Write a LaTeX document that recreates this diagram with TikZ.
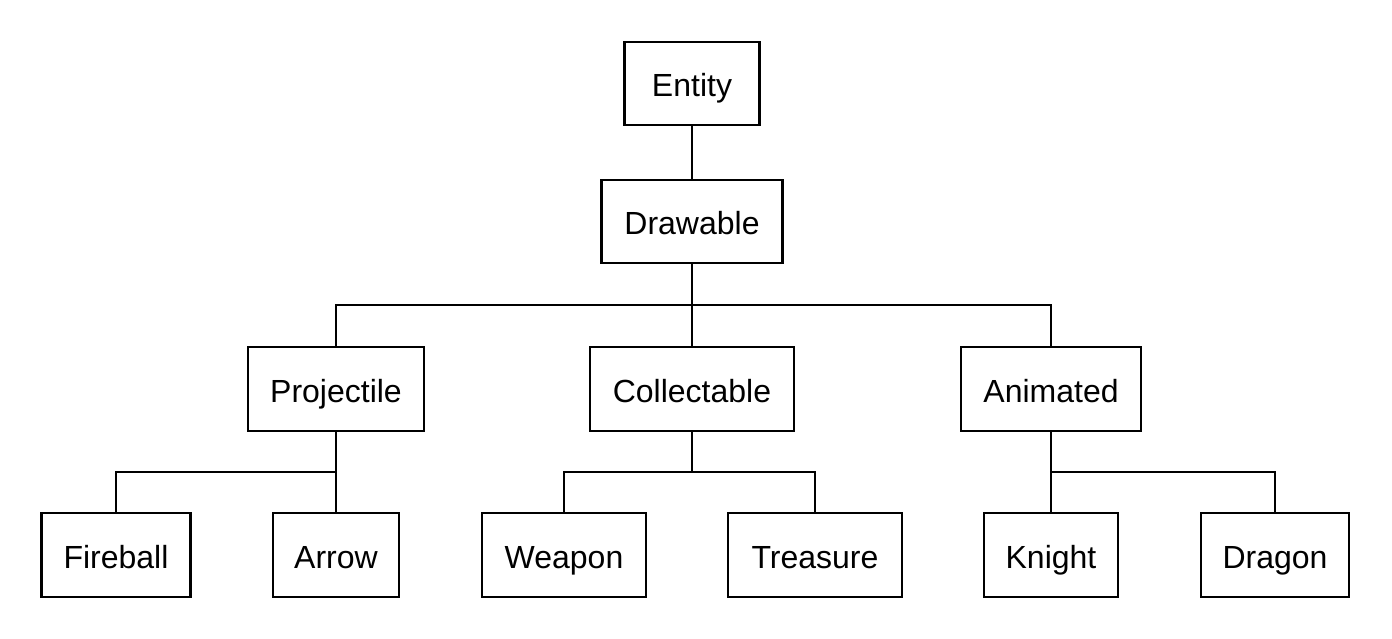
\documentclass[tikz,border=0pt]{standalone}
\usepackage{fontspec}
\setmainfont{Liberation Sans}
\begin{document}
\begin{tikzpicture}[x=1pt,y=-1pt,
  box/.style={draw, line width=2.6pt, inner sep=0pt, minimum height=84pt,
    text height=28pt, text depth=2pt,
    font=\fontsize{32}{38}\selectfont},
  link/.style={line width=2.6pt, line join=miter}]
\useasboundingbox (0,0) rectangle (1392,639);
\node[box, minimum width=135pt, minimum height=83pt] (entity) at (692,83.5) {Entity};
\node[box, minimum width=181pt, minimum height=83pt] (drawable) at (692,221.5) {Drawable};
\node[box, minimum width=176pt] (projectile) at (336,389) {Projectile};
\node[box, minimum width=204pt] (collectable) at (692,389) {Collectable};
\node[box, minimum width=180pt] (animated) at (1051,389) {Animated};
\node[box, minimum width=149pt] (fireball) at (116,555) {Fireball};
\node[box, minimum width=126pt] (arrow) at (336,555) {Arrow};
\node[box, minimum width=164pt] (weapon) at (564,555) {Weapon};
\node[box, minimum width=174pt] (treasure) at (815,555) {Treasure};
\node[box, minimum width=134pt] (knight) at (1051,555) {Knight};
\node[box, minimum width=148pt] (dragon) at (1275,555) {Dragon};
\coordinate (b1) at (692,305);
\coordinate (b2) at (336,472);
\coordinate (b3) at (692,472);
\coordinate (b4) at (1051,472);
\draw[link] (entity) -- (drawable);
\draw[link] (drawable.south) -- (collectable.north);
\draw[link] (projectile.north) |- (b1) -| (animated.north);
\draw[link] (projectile.south) -- (arrow.north);
\draw[link] (fireball.north) |- (b2);
\draw[link] (collectable.south) -- (b3);
\draw[link] (weapon.north) |- (b3) -| (treasure.north);
\draw[link] (animated.south) -- (knight.north);
\draw[link] (b4) -| (dragon.north);
\end{tikzpicture}
\end{document}
